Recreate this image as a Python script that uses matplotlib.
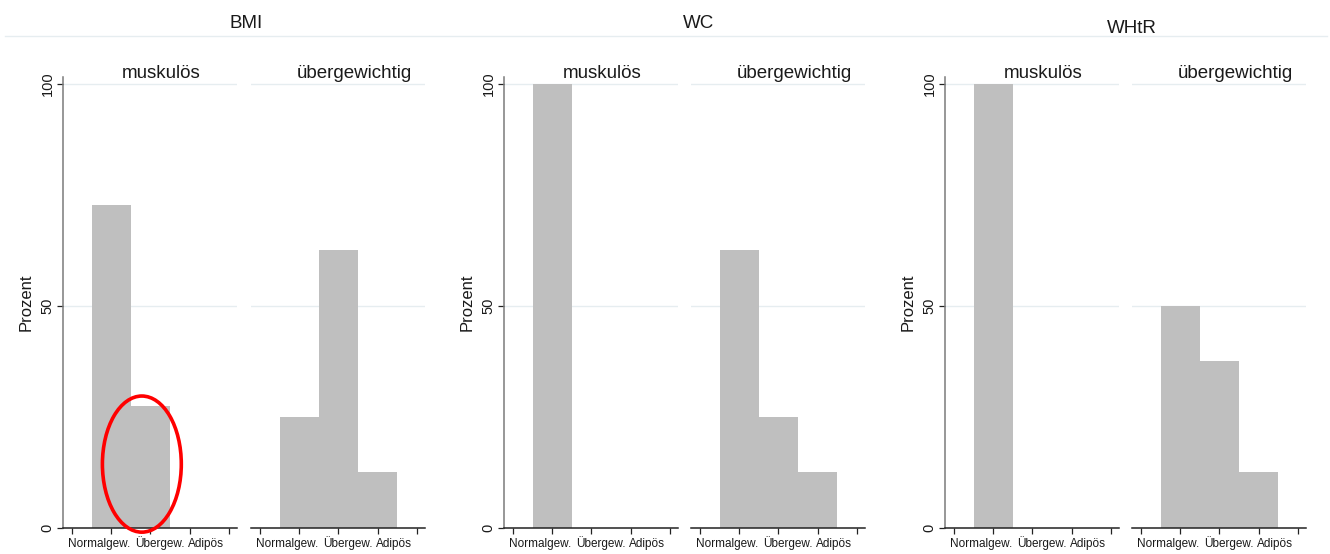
import matplotlib
matplotlib.use("Agg")
import matplotlib.pyplot as plt
from matplotlib.patches import Ellipse
from matplotlib.lines import Line2D

plt.rcParams['font.family'] = ['Liberation Sans', 'DejaVu Sans']

# percentages per category (Normalgew., Übergew., Adipös)
indices = ["BMI", "WC", "WHtR"]
groups = ["muskulös", "übergewichtig"]
categories = ["Normalgew.", "Übergew.", "Adipös"]

bmi_musk = [72.7, 27.3, 0]
bmi_ueber = [25.0, 62.5, 12.5]
wc_musk = [100.0, 0, 0]
wc_ueber = [62.5, 25.0, 12.5]
whtr_musk = [100.0, 0, 0]
whtr_ueber = [50.0, 37.5, 12.5]

data = [[bmi_musk, bmi_ueber], [wc_musk, wc_ueber], [whtr_musk, whtr_ueber]]

W, H = 1330, 554
fig = plt.figure(figsize=(W / 100, H / 100), dpi=100)
fig.patch.set_facecolor("white")

bar_col = "#bfbfbf"
grid_col = "#e6edf0"
txt_col = "#1a1a1a"

# axes left edges in pixels for each panel pair
ax_lefts = [(63, 251), (504, 691), (945, 1132)]
ax_w = 174
ax_top, ax_bot = 77, 527.5
title_pos = [(246, 28), (699, 28), (1132, 33)]
title_off = [0.566, 0.592]
label_pos = [0.68, 2.25, 3.41]


def px(x, y):
    return x / W, 1 - y / H


fig.add_artist(Line2D([5 / W, 1327 / W], [1 - 36 / H] * 2, color=grid_col, lw=1))

axes = []
for p, name in enumerate(indices):
    tx, ty = px(*title_pos[p])
    fig.text(tx, ty, name, ha="center", va="baseline", fontsize=13.5, color=txt_col)
    for g in range(2):
        left = ax_lefts[p][g]
        ax = fig.add_axes([left / W, (H - ax_bot) / H, ax_w / W, (ax_bot - ax_top) / H])
        axes.append(ax)
        ax.set_xlim(-0.229, 4.204)
        ax.set_ylim(0, 101.6)
        for v in (50, 100):
            ax.axhline(v, color=grid_col, lw=1, zorder=0)
        ax.bar([1, 2, 3], data[p][g], width=1, color=bar_col, linewidth=0, zorder=2)

        for s in ("top", "right"):
            ax.spines[s].set_visible(False)
        ax.spines["bottom"].set_color("#222222")
        ax.spines["bottom"].set_linewidth(1.1)
        ax.set_xticks([0, 1, 2, 3, 4])
        ax.set_xticklabels([])
        ax.tick_params(axis="x", length=4, width=0.9, color="#222222")
        for xp, lab in zip(label_pos, categories):
            ax.text(xp, -0.043, lab, transform=ax.get_xaxis_transform(),
                    ha="center", va="baseline", fontsize=8.5, color=txt_col)

        if g == 0:
            ax.spines["left"].set_color("#7a7a7a")
            ax.spines["left"].set_linewidth(1.1)
            ax.set_yticks([0, 50, 100])
            ax.tick_params(axis="y", length=4, width=0.9, color="#222222",
                           labelrotation=90, labelsize=10.5, labelcolor=txt_col, pad=2)
            for lab in ax.get_yticklabels():
                lab.set_va("center")
            ax.set_ylabel("Prozent", fontsize=12, color=txt_col, labelpad=5)
        else:
            ax.spines["left"].set_visible(False)
            ax.set_yticks([])

        ax.text(title_off[g], 0.998, groups[g], transform=ax.transAxes,
                ha="center", va="baseline", fontsize=13.5, color=txt_col)

# highlight on the BMI / muskulös panel
axes[0].add_patch(Ellipse((1.78, 14.3), 2.01, 30.7, fill=False, edgecolor="red",
                          lw=2.6, clip_on=False, zorder=5))

fig.savefig("out.png", dpi=100)
